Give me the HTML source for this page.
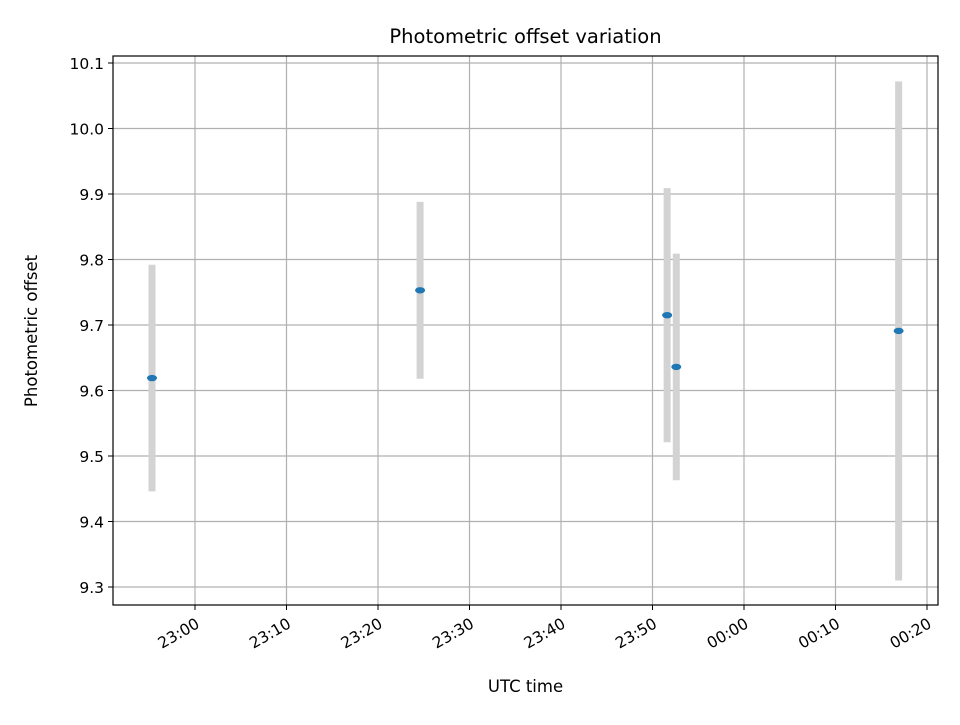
<!DOCTYPE html>
<html><head><meta charset="utf-8"><style>
body{margin:0;background:#fff;font-family:"Liberation Sans","DejaVu Sans",sans-serif;}
</style></head><body>
<svg id="chart" width="960" height="720" xmlns="http://www.w3.org/2000/svg" font-family="DejaVu Sans, Liberation Sans, sans-serif"></svg>
<script>
const times = [-4.7, 24.6, 51.6, 52.6, 76.9]; // minutes after 23:00
const offsets = [9.619, 9.753, 9.715, 9.636, 9.691];
const errors = [0.173, 0.135, 0.194, 0.173, 0.381];
const yTicks = [9.3, 9.4, 9.5, 9.6, 9.7, 9.8, 9.9, 10.0, 10.1];
const xTicks = [0, 10, 20, 30, 40, 50, 60, 70, 80];
const xTickLabels = ["23:00","23:10","23:20","23:30","23:40","23:50","00:00","00:10","00:20"];

const L=113,R=938,T=56,B=605;
const xs=m=>195+m*9.15;
const ys=v=>587-(v-9.3)*655;
const svg=document.getElementById('chart');
const NS='http://www.w3.org/2000/svg';
function mk(tag,attrs,parent){const e=document.createElementNS(NS,tag);for(const k in attrs)e.setAttribute(k,attrs[k]);(parent||svg).appendChild(e);return e;}

const grid=mk('g',{});


xTicks.forEach((t,i)=>{
  const x=xs(t);
  mk('line',{x1:x,x2:x,y1:T,y2:B,stroke:'#b0b0b0','stroke-width':1.2},grid);
  mk('line',{x1:x,x2:x,y1:B,y2:B+5,stroke:'#000','stroke-width':1});
  const tx=mk('text',{x:x,y:B+12,'font-size':15.5,'text-anchor':'end','dominant-baseline':'hanging',transform:`rotate(-30 ${x} ${B+12})`});
  
  
  tx.textContent=xTickLabels[i];
});
yTicks.forEach(t=>{
  const y=ys(t);
  mk('line',{x1:L,x2:R,y1:y,y2:y,stroke:'#b0b0b0','stroke-width':1.2},grid);
  mk('line',{x1:L-5,x2:L,y1:y,y2:y,stroke:'#000','stroke-width':1});
  const tx=mk('text',{x:L-9,y:y+6,'font-size':15.5,'text-anchor':'end'});
  
  
  tx.textContent=t.toFixed(1);
});
times.forEach((t,i)=>{
  const x=xs(t);
  const eb=mk('line',{x1:x,x2:x,y1:ys(offsets[i]+errors[i]),y2:ys(offsets[i]-errors[i]),stroke:'#d3d3d3','stroke-width':7});
  
  
});
times.forEach((t,i)=>{
  const p=mk('ellipse',{cx:xs(t),cy:ys(offsets[i]),rx:5,ry:3.2,fill:'#1f77b4'});
  
  
});
const frame=mk('rect',{x:L,y:T,width:R-L,height:B-T,fill:'none',stroke:'#000','stroke-width':1.2});


const title=mk('text',{x:(L+R)/2,y:43,'font-size':19.5,'text-anchor':'middle'});


title.textContent='Photometric offset variation';
const xl=mk('text',{x:(L+R)/2,y:692,'font-size':16.5,'text-anchor':'middle'});


xl.textContent='UTC time';
const yl=mk('text',{x:37,y:331,'font-size':16.5,'text-anchor':'middle',transform:'rotate(-90 37 331)'});


yl.textContent='Photometric offset';
</script>
</body></html>
